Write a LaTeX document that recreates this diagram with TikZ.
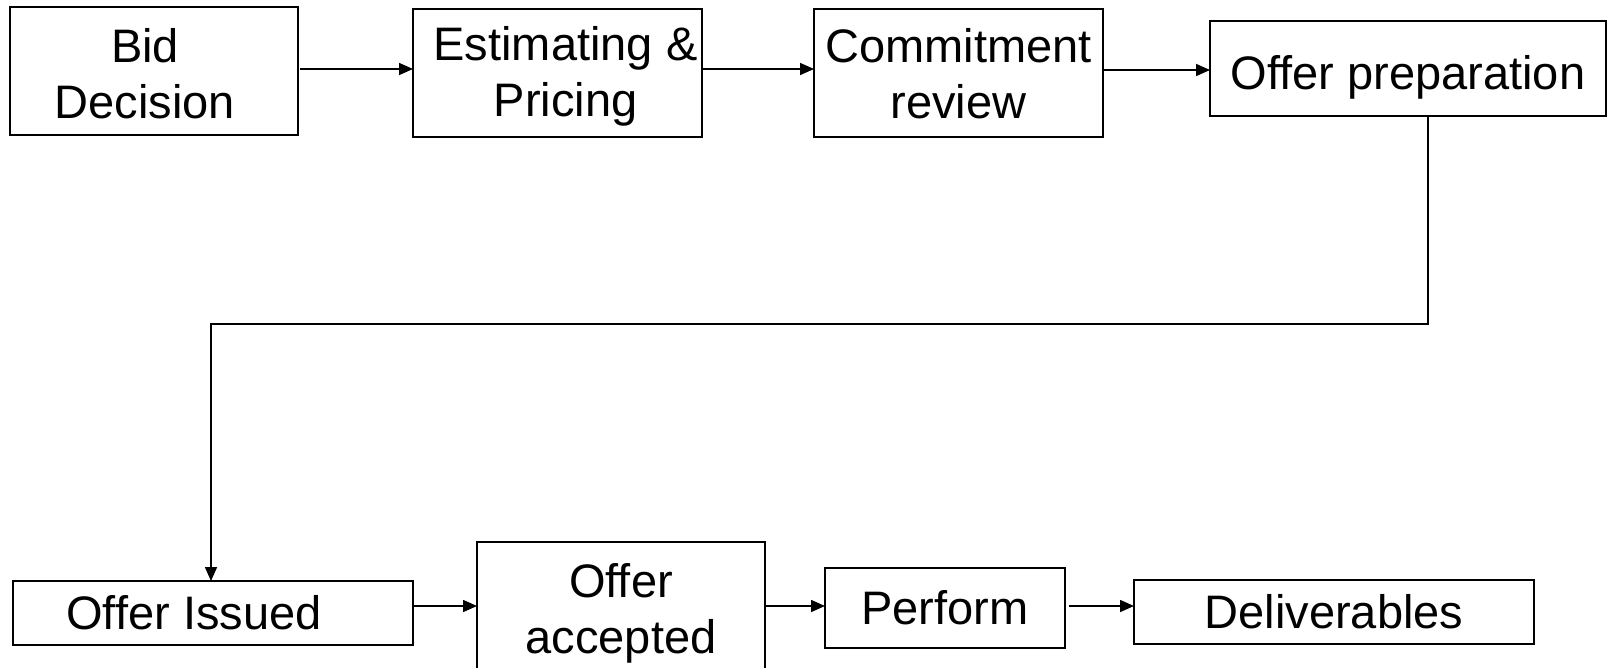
\documentclass[tikz,border=0pt]{standalone}
\usepackage{fontspec}
\setmainfont{Liberation Sans}
\usetikzlibrary{arrows.meta}
\begin{document}
\begin{tikzpicture}[x=1pt,y=-1pt,
  box/.style={draw=black,line width=1.5pt,inner sep=0pt,outer sep=0pt,align=center,
    font=\fontsize{47}{56}\selectfont},
  conn/.style={line width=1.6pt,-{Triangle[length=14pt,width=12pt]}}]
\useasboundingbox (0,0) rectangle (1608,667);
\node[box,minimum width=288pt,minimum height=128pt] (bd) at (154,71) {\rule{0pt}{40pt}Bid\hspace*{18pt}\\Decision\hspace*{18pt}};
\node[box,minimum width=289pt,minimum height=128pt] (ep) at (557.5,73) {\rule{0pt}{41pt}\hspace*{16pt}Estimating \&\\\hspace*{16pt}Pricing};
\node[box,minimum width=289pt,minimum height=128pt] (cr) at (958.5,73) {\rule{0pt}{36pt}Commitment\\review};
\node[box,minimum width=396pt,minimum height=95pt] (op) at (1408,68.5) {\raisebox{-21pt}[0pt][0pt]{Offer preparation}};
\node[box,minimum width=400pt,minimum height=64pt] (oi) at (213,613) {Offer Issued\hspace*{38pt}};
\node[box,minimum width=288pt,minimum height=132pt] (oa) at (621,608) {\rule{0pt}{44pt}Offer\\accepted};
\node[box,minimum width=240pt,minimum height=80pt] (pf) at (945,608) {Perform};
\node[box,minimum width=400pt,minimum height=64pt] (dl) at (1334,612) {Deliverables};
\coordinate (toprow) at (0,69);
\coordinate (botrow) at (0,606);
\coordinate (turnA) at (1428,324);
\coordinate (turnB) at (211,324);
\draw[conn] ([xshift=2pt]bd.east |- toprow) -- (ep.west |- toprow);
\draw[conn] (ep.east |- toprow) -- (cr.west |- toprow);
\draw[conn] (cr.east |- 0,70) -- (op.west |- 0,70);
\draw[conn] (op.south -| turnA) -- (turnA) -- (turnB) -- (oi.north -| turnB);
\draw[conn] (oi.east |- botrow) -- (oa.west |- botrow);
\draw[conn] (oa.east |- botrow) -- (pf.west |- botrow);
\draw[conn] ([xshift=4pt]pf.east |- botrow) -- (dl.west |- botrow);
\end{tikzpicture}
\end{document}
